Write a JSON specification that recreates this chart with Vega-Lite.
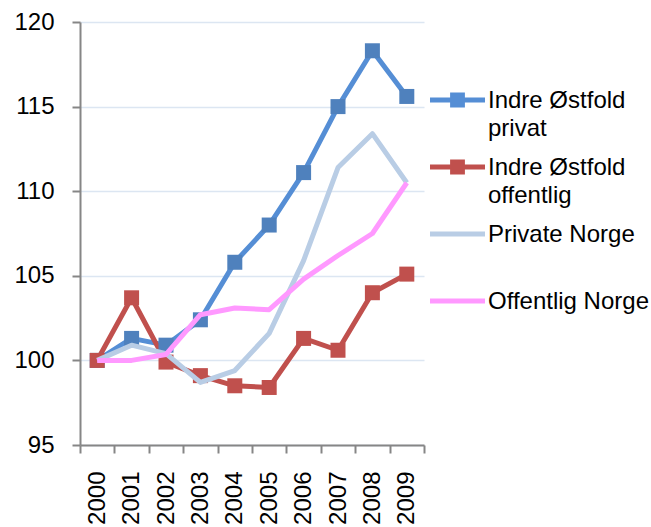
{
  "$schema": "https://vega.github.io/schema/vega-lite/v6.json",
  "width": 344,
  "height": 423,
  "autosize": {"type": "none"},
  "padding": {"left": 80, "top": 22, "right": 227, "bottom": 82},
  "background": "white",
  "config": {"view": {"stroke": null}, "font": "Liberation Sans"},
  "data": {
    "values": [
      {"year": "2000", "series": "Indre Østfold privat", "value": 100},
      {"year": "2001", "series": "Indre Østfold privat", "value": 101.3},
      {"year": "2002", "series": "Indre Østfold privat", "value": 100.9},
      {"year": "2003", "series": "Indre Østfold privat", "value": 102.4},
      {"year": "2004", "series": "Indre Østfold privat", "value": 105.8},
      {"year": "2005", "series": "Indre Østfold privat", "value": 108.0},
      {"year": "2006", "series": "Indre Østfold privat", "value": 111.1},
      {"year": "2007", "series": "Indre Østfold privat", "value": 115.0},
      {"year": "2008", "series": "Indre Østfold privat", "value": 118.3},
      {"year": "2009", "series": "Indre Østfold privat", "value": 115.6},
      {"year": "2000", "series": "Indre Østfold offentlig", "value": 100},
      {"year": "2001", "series": "Indre Østfold offentlig", "value": 103.7},
      {"year": "2002", "series": "Indre Østfold offentlig", "value": 99.9},
      {"year": "2003", "series": "Indre Østfold offentlig", "value": 99.1},
      {"year": "2004", "series": "Indre Østfold offentlig", "value": 98.5},
      {"year": "2005", "series": "Indre Østfold offentlig", "value": 98.4},
      {"year": "2006", "series": "Indre Østfold offentlig", "value": 101.3},
      {"year": "2007", "series": "Indre Østfold offentlig", "value": 100.6},
      {"year": "2008", "series": "Indre Østfold offentlig", "value": 104.0},
      {"year": "2009", "series": "Indre Østfold offentlig", "value": 105.1},
      {"year": "2000", "series": "Private Norge", "value": 100},
      {"year": "2001", "series": "Private Norge", "value": 100.9},
      {"year": "2002", "series": "Private Norge", "value": 100.4},
      {"year": "2003", "series": "Private Norge", "value": 98.7},
      {"year": "2004", "series": "Private Norge", "value": 99.4},
      {"year": "2005", "series": "Private Norge", "value": 101.6},
      {"year": "2006", "series": "Private Norge", "value": 105.9},
      {"year": "2007", "series": "Private Norge", "value": 111.4},
      {"year": "2008", "series": "Private Norge", "value": 113.4},
      {"year": "2009", "series": "Private Norge", "value": 110.5},
      {"year": "2000", "series": "Offentlig Norge", "value": 100},
      {"year": "2001", "series": "Offentlig Norge", "value": 100.0},
      {"year": "2002", "series": "Offentlig Norge", "value": 100.35},
      {"year": "2003", "series": "Offentlig Norge", "value": 102.7},
      {"year": "2004", "series": "Offentlig Norge", "value": 103.1},
      {"year": "2005", "series": "Offentlig Norge", "value": 103.0},
      {"year": "2006", "series": "Offentlig Norge", "value": 104.8},
      {"year": "2007", "series": "Offentlig Norge", "value": 106.2},
      {"year": "2008", "series": "Offentlig Norge", "value": 107.5},
      {"year": "2009", "series": "Offentlig Norge", "value": 110.5}
    ]
  },
  "encoding": {
    "x": {
      "field": "year",
      "type": "ordinal",
      "scale": {"type": "band", "paddingInner": 0, "paddingOuter": 0},
      "axis": {
        "title": null,
        "labelAngle": -90,
        "tickBand": "extent",
        "tickSize": 8,
        "labelPadding": 18,
        "labelFontSize": 24,
        "labelColor": "black",
        "domainColor": "#868686",
        "domainWidth": 2,
        "tickColor": "#868686",
        "tickWidth": 2,
        "grid": false
      }
    },
    "y": {
      "field": "value",
      "type": "quantitative",
      "scale": {"domain": [95, 120], "nice": false, "zero": false},
      "axis": {
        "title": null,
        "values": [95, 100, 105, 110, 115, 120],
        "tickSize": 8,
        "labelPadding": 18,
        "labelFontSize": 24,
        "labelColor": "black",
        "domainColor": "#868686",
        "domainWidth": 2,
        "tickColor": "#868686",
        "tickWidth": 2,
        "grid": true,
        "gridColor": "#DCE6F2",
        "gridWidth": 1.5
      }
    }
  },
  "layer": [
    {
      "transform": [{"filter": "indexof(datum.series, 'Indre') == 0"}],
      "mark": {"type": "line", "strokeWidth": 5, "strokeJoin": "round"},
      "encoding": {
        "color": {
          "field": "series",
          "type": "nominal",
          "scale": {
            "domain": ["Indre Østfold privat", "Indre Østfold offentlig", "Private Norge", "Offentlig Norge"],
            "range": ["#558ED5", "#C0504D", "#B9CDE5", "#FF99FF"]
          },
          "legend": {
            "title": null,
            "orient": "none",
            "legendX": 350,
            "legendY": 63,
            "padding": 0,
            "symbolSize": 900,
            "symbolOffset": 12.5,
            "labelFontSize": 24,
            "labelColor": "black",
            "labelLimit": 300,
            "labelOffset": 15.5,
            "labelBaseline": "alphabetic",
            "rowPadding": 11,
            "labelExpr": "datum.label == 'Indre Østfold privat' ? ['Indre Østfold', 'privat'] : datum.label == 'Indre Østfold offentlig' ? ['Indre Østfold', 'offentlig'] : [datum.label, '']",
            "encode": {
              "symbols": {
                "update": {
                  "shape": {"signal": "indexof(datum.value, 'Indre') == 0 ? 'M-1.8333,-0.1667H1.8333V0.1667H-1.8333Z M-0.4933,-0.4933H0.4933V0.4933H-0.4933Z' : 'M-1.8333,-0.1667H1.8333V0.1667H-1.8333Z'"},
                  "fill": {"signal": "scale('color', datum.value)"},
                  "strokeWidth": {"value": 0}
                }
              },
              "labels": {
                "update": {
                  "lineHeight": {"value": 28},
                  "dy": {"value": 8}
                }
              }
            }
          }
        }
      }
    },
    {
      "transform": [{"filter": "indexof(datum.series, 'Indre') == 0"}],
      "mark": {"type": "point", "shape": "square", "filled": true, "size": 225, "opacity": 1},
      "encoding": {
        "fill": {
          "field": "series",
          "type": "nominal",
          "scale": {
            "domain": ["Indre Østfold privat", "Indre Østfold offentlig"],
            "range": ["#4F81BD", "#C0504D"]
          },
          "legend": null
        }
      }
    },
    {
      "transform": [{"filter": "indexof(datum.series, 'Indre') != 0"}],
      "mark": {"type": "line", "strokeWidth": 5, "strokeJoin": "round"},
      "encoding": {
        "color": {
          "field": "series",
          "type": "nominal",
          "scale": {
            "domain": ["Indre Østfold privat", "Indre Østfold offentlig", "Private Norge", "Offentlig Norge"],
            "range": ["#558ED5", "#C0504D", "#B9CDE5", "#FF99FF"]
          }
        }
      }
    }
  ]
}
